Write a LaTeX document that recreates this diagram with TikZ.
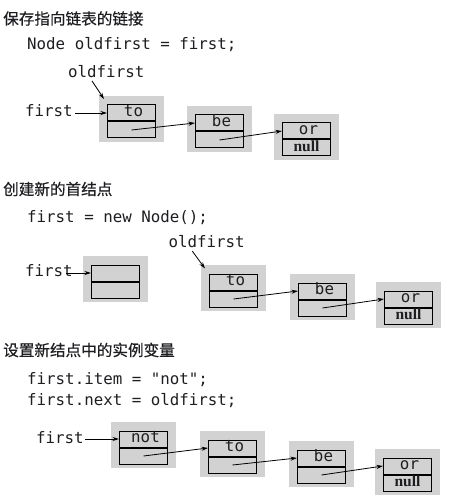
\documentclass[tikz,border=0pt]{standalone}
\usepackage{fontspec}
\setmonofont{DejaVu Sans Mono}
\newfontfamily\cjkfont[FakeBold=0.4]{Noto Sans CJK SC}
\newfontfamily\nullserif{Liberation Serif}
\usetikzlibrary{arrows.meta}
\definecolor{boxgray}{RGB}{210,210,210}
\definecolor{ink}{RGB}{30,30,34}
\tikzset{
  code/.style={font=\ttfamily\fontsize{15.8bp}{20bp}\selectfont, text=ink, inner sep=0pt, anchor=base west},
  title/.style={font=\cjkfont\fontsize{15.6bp}{18bp}\selectfont, text=ink, inner sep=0pt, anchor=west},
  graybox/.style={fill=boxgray, draw=none, minimum width=65bp, minimum height=46bp, inner sep=0pt, anchor=north west},
  cell/.style={draw=black, line width=1bp, minimum width=48bp, minimum height=16bp, inner sep=0pt,
     text height=11.5bp, text depth=4.5bp, anchor=north west, font=\ttfamily\fontsize{15.8bp}{18bp}\selectfont, text=ink},
  nulltext/.style={font=\nullserif\bfseries\fontsize{15.5bp}{17bp}\selectfont},
  arr/.style={-{Stealth[length=6.5bp,width=4bp]}, line width=0.8bp, black},
}
\newcommand\lnode[5]{%
  \node[graybox] (#1) at (#2,#3) {};
  \node[cell] (#1t) at ([shift={(8,8.5)}]#1.north west) {\kern4bp #4};
  \node[cell,#5] (#1b) at (#1t.south west) {\kern4bp};
}
\newcommand\lnodenull[4]{%
  \node[graybox] (#1) at (#2,#3) {};
  \node[cell] (#1t) at ([shift={(8,8.5)}]#1.north west) {\kern4bp #4};
  \node[cell,nulltext] (#1b) at (#1t.south west) {null};
}
\begin{document}
\begin{tikzpicture}[x=1bp,y=-1bp]
\useasboundingbox (0,0) rectangle (449,503);
% ---------- section 1
\node[title] (t1) at (3,18.5) {保存指向链表的链接};
\node[code] (c1) at (27,49.5) {Node oldfirst = first;};
\node[code] (of1) at (68,77.5) {oldfirst};
\node[code] (f1) at (25,117) {first};
\lnode{A1}{99}{96}{to}{}
\lnode{B1}{187}{106}{be}{}
\lnodenull{C1}{274}{114}{or}
\draw[arr] ([shift={(24,3)}]of1.south west) -- ([shift={(5,3)}]A1.north west);
\draw[arr, shorten <=2.5bp] (f1.east |- A1t.west) -- (A1t.west);
\draw[arr] (A1b.center) -- (B1t.west);
\draw[arr] (B1b.center) -- (C1t.west);
% ---------- section 2
\node[title] (t2) at (3,189) {创建新的首结点};
\node[code] (c2) at (27,222.5) {first = new Node();};
\node[code] (of2) at (168.3,247.7) {oldfirst};
\node[code] (f2) at (25,276) {first};
\lnode{N2}{83}{256}{}{}
\lnode{A2}{201}{265}{to}{}
\lnode{B2}{290}{274}{be}{}
\lnodenull{C2}{376}{282}{or}
\draw[arr] ([shift={(24,3)}]of2.south west) -- ([shift={(4,3.5)}]A2.north west);
\draw[arr, shorten <=-6.5bp] (f2.east |- N2t.west) -- (N2t.west);
\draw[arr] (A2b.center) -- (B2t.west);
\draw[arr] (B2b.center) -- (C2t.west);
% ---------- section 3
\node[title] (t3) at (3,350) {设置新结点中的实例变量};
\node[code] (c3a) at (27,384) {first.item = "not";};
\node[code] (c3b) at (27,405) {first.next = oldfirst;};
\node[code] (f3) at (36,443.3) {first};
\lnode{N3}{111}{422}{not}{}
\lnode{A3}{200}{431}{to}{}
\lnode{B3}{289}{441}{be}{}
\lnodenull{C3}{375}{449}{or}
\draw[arr, shorten <=1.5bp] (f3.east |- N3t.west) -- (N3t.west);
\draw[arr] (N3b.center) -- (A3t.west);
\draw[arr] (A3b.center) -- (B3t.west);
\draw[arr] (B3b.center) -- (C3t.west);
\end{tikzpicture}
\end{document}
